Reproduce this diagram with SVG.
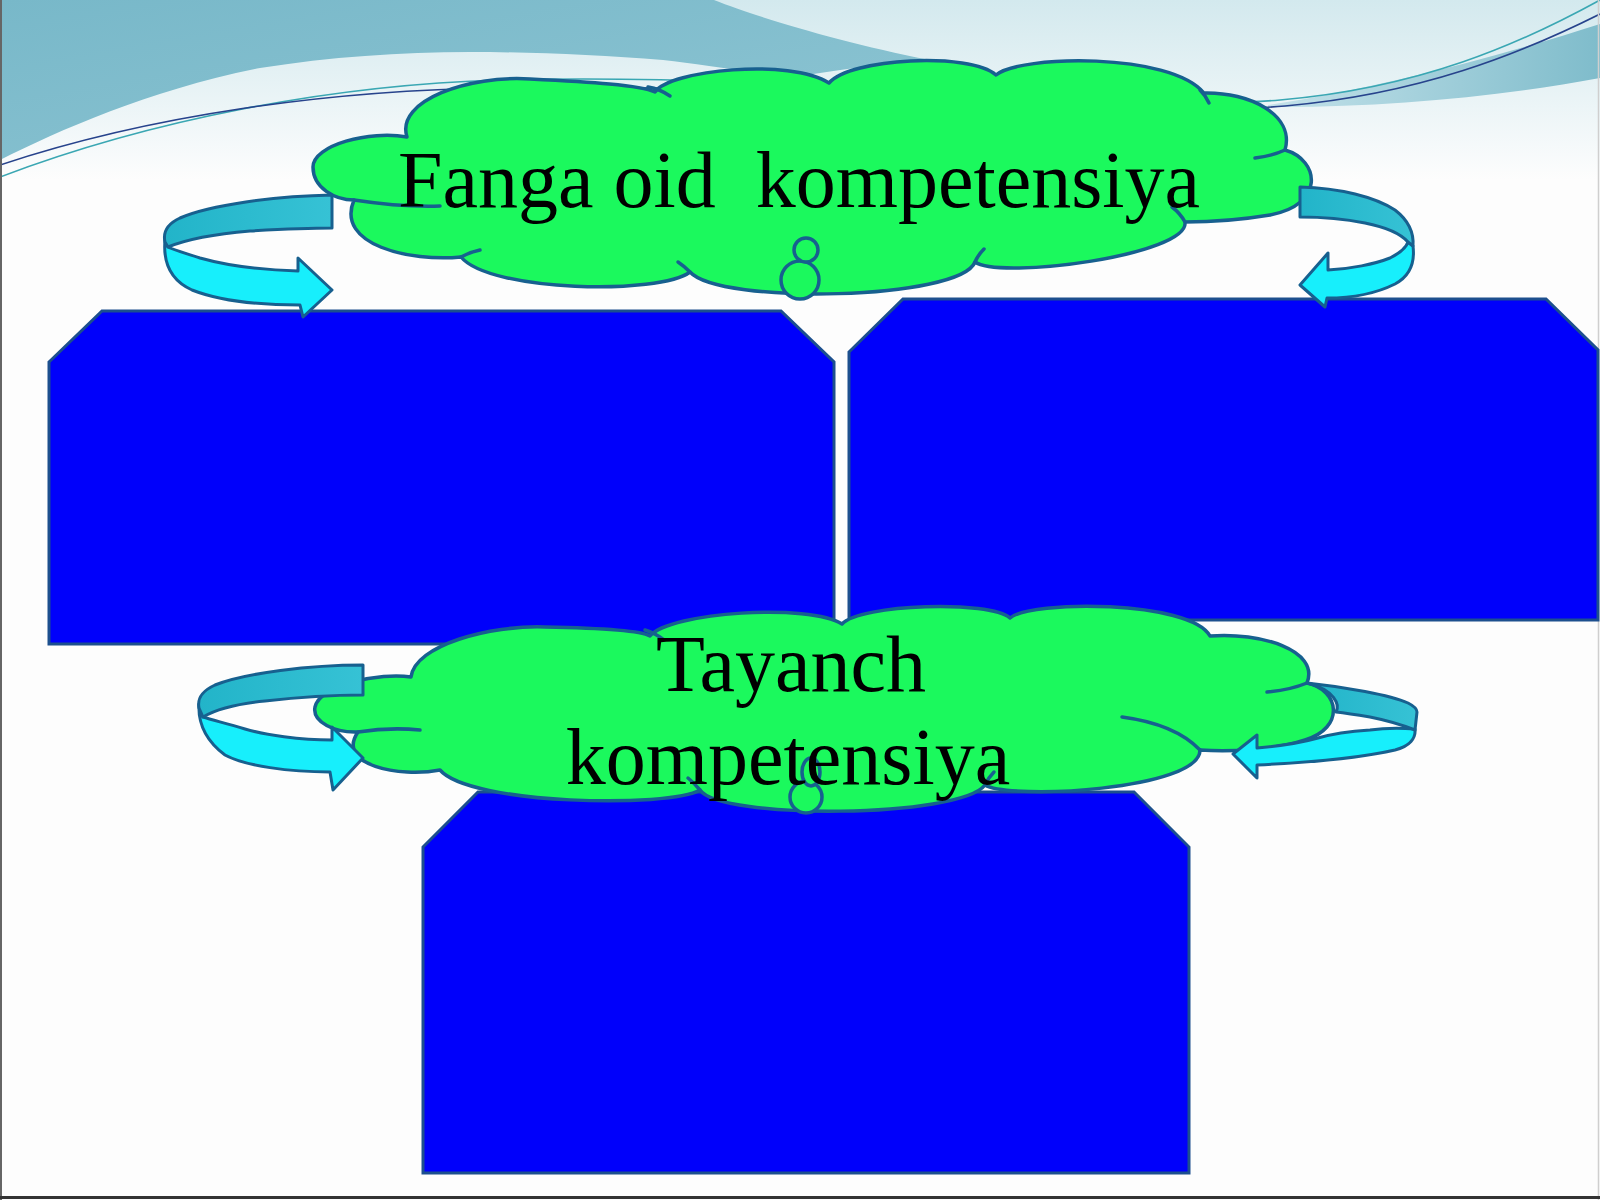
<svg xmlns="http://www.w3.org/2000/svg" width="1600" height="1200" viewBox="0 0 1600 1200">
<defs>
<linearGradient id="gTop" x1="0" y1="0" x2="0" y2="1">
<stop offset="0" stop-color="#d3e9ee"/>
<stop offset="1" stop-color="#fdfdfd"/>
</linearGradient>
<linearGradient id="gTeal" x1="0" y1="0" x2="1" y2="1">
<stop offset="0" stop-color="#78b8c9"/>
<stop offset="1" stop-color="#8ec5d3"/>
</linearGradient>
<linearGradient id="gSwoosh" x1="0" y1="0" x2="1" y2="0">
<stop offset="0" stop-color="#c4e2ea"/>
<stop offset="1" stop-color="#7fbccb"/>
</linearGradient>
<linearGradient id="gBack" x1="0" y1="0" x2="1" y2="0">
<stop offset="0" stop-color="#22b4c9"/>
<stop offset="1" stop-color="#36c2d5"/>
</linearGradient>
<style>
.box{fill:#0000fb;stroke:#1c4f8e;stroke-width:3;stroke-linejoin:miter}
.cloud{fill:#1bf95d;stroke:#17608f;stroke-width:3.5;stroke-linejoin:round}
.hook{fill:none;stroke:#17608f;stroke-width:3.5;stroke-linecap:round}
.back{fill:url(#gBack);stroke:#17608f;stroke-width:3;stroke-linejoin:round}
.front{fill:#17effc;stroke:#17608f;stroke-width:3;stroke-linejoin:round}
.lbl{font-family:"Liberation Serif","Times New Roman",serif;font-size:80px;fill:#000000}
</style>
</defs>

<g id="background">
<rect x="0" y="0" width="1600" height="1200" fill="#fdfdfd"/>
<rect x="0" y="0" width="1600" height="180" fill="url(#gTop)"/>
<path d="M0,0 L714,0 C 760,18 840,42 930,60 C 880,64 840,70 800,76 C 740,72 700,64 663,60 C 600,55 530,52 470,52 C 400,52 330,57 260,68 C 150,90 60,130 0,160 Z" fill="url(#gTeal)"/>
<path d="M1268,105 C 1380,88 1500,56 1600,24 L1600,78 C 1500,97 1380,108 1268,107 Z" fill="url(#gSwoosh)"/>
<path d="M0,177 C 150,120 330,85 500,80 C 800,72 1150,112 1280,100 C 1420,88 1520,44 1600,0" fill="none" stroke="#3aa7b3" stroke-width="1.6"/>
<path d="M0,165 C 150,115 330,90 500,88 C 810,82 1150,118 1285,106 C 1420,94 1520,54 1600,14" fill="none" stroke="#27438c" stroke-width="1.6"/>
<line x1="1" y1="0" x2="1" y2="1200" stroke="#666" stroke-width="2"/>
<line x1="1598.5" y1="0" x2="1598.5" y2="1200" stroke="#cfcfcf" stroke-width="1.5"/>
<line x1="0" y1="1197.5" x2="1600" y2="1197.5" stroke="#333" stroke-width="3"/>
</g>

<g id="box-left">
<path class="box" d="M49,362 L102,311 L781,311 L834,362 L834,644 L49,644 Z"/>
</g>
<g id="box-right">
<path class="box" d="M849,352 L903,299 L1546,299 L1598,350 L1598,620 L849,620 Z"/>
</g>
<g id="box-bottom">
<path class="box" d="M423,847 L478,792 L1134,792 L1189,847 L1189,1173 L423,1173 Z"/>
</g>

<g id="cloud-fanga">
<path class="cloud" d="M354,200 C 335,200 313,188 313,167 C 313,145 370,130 407,137 C 395,100 470,75 530,79 C 590,82 640,85 655,92 C 670,70 790,58 829,83 C 850,58 970,52 996,75 C 1020,55 1170,52 1204,93 C 1250,92 1295,115 1285,150 C 1320,160 1325,205 1270,215 C 1240,220 1210,222 1185,222 C 1190,255 1000,280 975,262 C 960,300 720,305 690,272 C 660,295 490,292 461,257 C 410,262 335,245 354,200 Z"/>
<path class="hook" d="M354,200 C 380,204 410,207 440,206"/>
<path class="hook" d="M648,87 Q660,89 670,96"/>
<path class="hook" d="M1200,90 Q1206,96 1209,103"/>
<path class="hook" d="M1285,150 Q1272,156 1255,158"/>
<path class="hook" d="M1185,222 Q1180,213 1172,207"/>
<path class="hook" d="M975,262 Q978,255 984,249"/>
<path class="hook" d="M690,272 Q684,266 678,262"/>
<path class="hook" d="M461,257 Q470,252 480,250"/>
<circle class="cloud" cx="800" cy="280" r="19"/>
<circle class="cloud" cx="806" cy="250" r="12"/>
<text class="lbl" x="799" y="207" text-anchor="middle" xml:space="preserve">Fanga oid  kompetensiya</text>
</g>

<g id="cloud-tayanch">
<path class="cloud" d="M358,732 C 335,733 312,722 315,707 C 320,685 380,672 411,677 C 415,645 490,625 545,627 C 600,628 640,630 650,636 C 670,612 810,603 842,624 C 860,604 990,600 1010,618 C 1030,600 1190,600 1210,636 C 1260,632 1320,650 1307,683 C 1340,690 1345,728 1305,740 C 1275,750 1230,752 1200,750 C 1200,790 1010,800 985,785 C 960,818 720,820 700,790 C 670,808 470,805 440,770 C 400,778 335,765 358,732 Z"/>
<path class="hook" d="M358,732 Q390,727 420,730"/>
<path class="hook" d="M645,630 Q655,633 664,640"/>
<path class="hook" d="M1307,683 Q1290,690 1267,692"/>
<path class="hook" d="M1200,750 Q1175,724 1122,717"/>
<path class="hook" d="M985,785 Q988,778 994,772"/>
<path class="hook" d="M700,790 Q694,783 688,778"/>
<circle class="cloud" cx="806" cy="797" r="16"/>
<ellipse class="cloud" cx="811" cy="772" rx="9" ry="14"/>
<text class="lbl" x="791" y="691" text-anchor="middle">Tayanch</text>
<text class="lbl" x="788" y="784" text-anchor="middle">kompetensiya</text>
</g>

<g id="connectors">
<g id="arrow-top-left">
<path class="front" d="M165,240 C 163,262 170,280 192,290 C 220,301 262,305 300,305 L303,317 L332,290 L298,258 L298,271 C 262,270 225,265 200,258 C 185,253 174,250 168,247 Z"/>
<path class="back" d="M332,195 C 275,196 210,205 180,218 C 167,224 163,233 165,242 L168,247 C 185,240 215,234 250,231 C 285,229 310,228 332,228 Z"/>
</g>
<g id="arrow-top-right">
<path class="front" d="M1413,246 C 1415,262 1410,276 1395,284 C 1375,294 1350,298 1327,298 L1325,307 L1300,285 L1328,253 L1328,270 C 1350,269 1375,264 1390,258 C 1400,253 1406,248 1408,242 Z"/>
<path class="back" d="M1300,187 C 1340,188 1375,197 1395,210 C 1408,220 1414,232 1413,246 L1408,242 C 1400,233 1385,227 1365,223 C 1345,219 1320,217 1300,217 Z"/>
</g>
<g id="arrow-mid-left">
<path class="front" d="M199,704 C 198,722 205,740 225,755 C 245,766 290,772 330,772 L333,790 L363,758 L332,727 L332,740 C 300,740 265,735 245,729 C 225,723 212,720 203,717 Z"/>
<path class="back" d="M363,665 C 310,665 245,673 215,685 C 202,691 197,698 199,708 L203,717 C 215,710 235,704 265,701 C 300,697 335,695 363,695 Z"/>
</g>
<g id="arrow-mid-right">
<path class="front" d="M1415,729 C 1416,738 1410,746 1395,750 C 1360,758 1300,763 1257,765 L1257,778 L1233,754 L1257,735 L1257,748 C 1280,746 1300,743 1318,738 C 1335,733 1355,731 1370,730 C 1385,728 1400,728 1415,729 Z"/>
<path class="back" d="M1307,683 C 1345,687 1390,695 1408,703 C 1414,706 1417,709 1417,712 L1415,730 C 1405,726 1390,721 1370,717 C 1358,715 1345,713 1336,712 C 1340,705 1335,690 1307,683 Z"/>
</g>
</g>
</svg>
